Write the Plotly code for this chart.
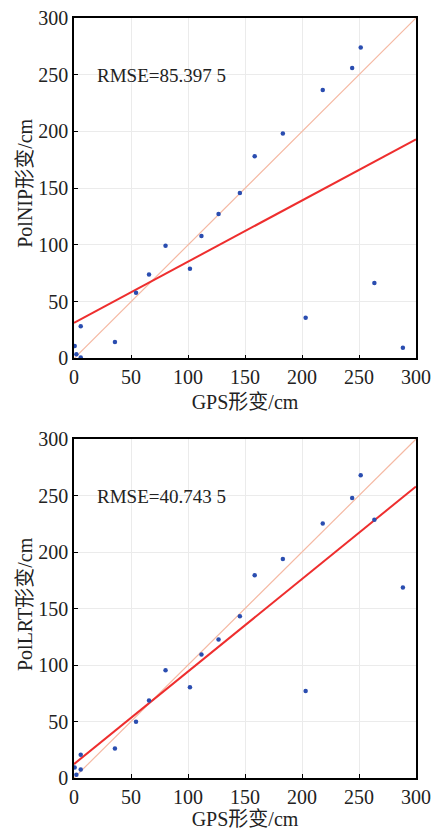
import plotly.graph_objects as go

# Data
gps = [0.6, 2.1, 5.9, 5.9, 35.9, 54.4, 65.8, 80.3, 101.7, 111.8, 126.8,
       145.5, 158.5, 183.2, 203.2, 218.2, 244.0, 251.5, 263.5, 288.5]
polnip = [10.9, 3.8, 28.5, 0.9, 14.6, 57.9, 74.1, 99.4, 79.1, 107.9, 127.3,
          145.9, 178.2, 198.2, 35.8, 236.5, 255.9, 274.1, 66.4, 9.4]
pollrt = [9.4, 2.9, 20.6, 7.6, 26.1, 49.7, 68.5, 95.3, 80.3, 109.4, 122.6,
          143.2, 179.4, 193.8, 77.0, 225.3, 247.9, 267.9, 228.5, 168.5]

fit_nip = (0.539, 31.4)   # slope, intercept
fit_lrt = (0.819, 12.3)
rmse_labels = ["RMSE=85.397 5", "RMSE=40.743 5"]
y_titles = ["PolNIP形变/cm", "PolLRT形变/cm"]
x_title = "GPS形变/cm"
axis_range = [0, 300]
ticks = [0, 50, 100, 150, 200, 250, 300]

FONT = "Liberation Serif, Times New Roman, Noto Sans CJK SC, serif"
TXT = "#222222"
MARK = "#2a4db0"
FIT = "#ee2e2e"
IDENT = "#f5b9a3"

fig = go.Figure()

panels = [(polnip, fit_nip, "x", "y"), (pollrt, fit_lrt, "x2", "y2")]
for vals, (k, b), xa, ya in panels:
    fig.add_trace(go.Scatter(x=axis_range, y=axis_range, mode="lines",
                             line=dict(color=IDENT, width=1.2),
                             xaxis=xa, yaxis=ya, showlegend=False, hoverinfo="skip"))
    fig.add_trace(go.Scatter(x=axis_range, y=[b + k * axis_range[0], b + k * axis_range[1]],
                             mode="lines", line=dict(color=FIT, width=2),
                             xaxis=xa, yaxis=ya, showlegend=False))
    fig.add_trace(go.Scatter(x=gps, y=vals, mode="markers",
                             marker=dict(color=MARK, size=4.5),
                             xaxis=xa, yaxis=ya, showlegend=False))

def xaxis(anchor):
    return dict(domain=[0, 1], anchor=anchor, range=axis_range, tickvals=ticks,
                automargin=False,
                showgrid=True, gridcolor="#ebebeb", gridwidth=1,
                showline=True, linecolor="black", linewidth=1.6, mirror=True,
                ticks="inside", ticklen=4, tickcolor="black", zeroline=False,
                tickfont=dict(family=FONT, size=20, color=TXT),
                title=dict(text=x_title, font=dict(family=FONT, size=20, color=TXT), standoff=8))

def yaxis(domain, anchor):
    return dict(domain=domain, anchor=anchor, range=axis_range, tickvals=ticks,
                automargin=False,
                showgrid=True, gridcolor="#ebebeb", gridwidth=1,
                showline=True, linecolor="black", linewidth=1.6, mirror=True,
                ticks="inside", ticklen=4, tickcolor="black", zeroline=False,
                tickfont=dict(family=FONT, size=20, color=TXT))

y_domains = [[0.552, 1], [0, 0.446]]
fig.update_layout(
    width=436, height=830,
    margin=dict(l=74, r=20, t=18, b=52),
    plot_bgcolor="white", paper_bgcolor="white",
    xaxis=xaxis("y"),
    yaxis=yaxis(y_domains[0], "x"),
    xaxis2=xaxis("y2"),
    yaxis2=yaxis(y_domains[1], "x2"),
)

for i, (xr, yr) in enumerate([("x", "y"), ("x2", "y2")]):
    fig.add_annotation(x=18, y=249, xref=xr, yref=yr, text=rmse_labels[i],
                       showarrow=False, xanchor="left", yanchor="middle",
                       font=dict(family=FONT, size=19, color=TXT))
    fig.add_annotation(x=-0.143, y=sum(y_domains[i]) / 2 + 0.006, xref="paper", yref="paper",
                       text=y_titles[i], textangle=-90, showarrow=False,
                       xanchor="center", yanchor="middle",
                       font=dict(family=FONT, size=20, color=TXT))

fig.write_html("out.html")
